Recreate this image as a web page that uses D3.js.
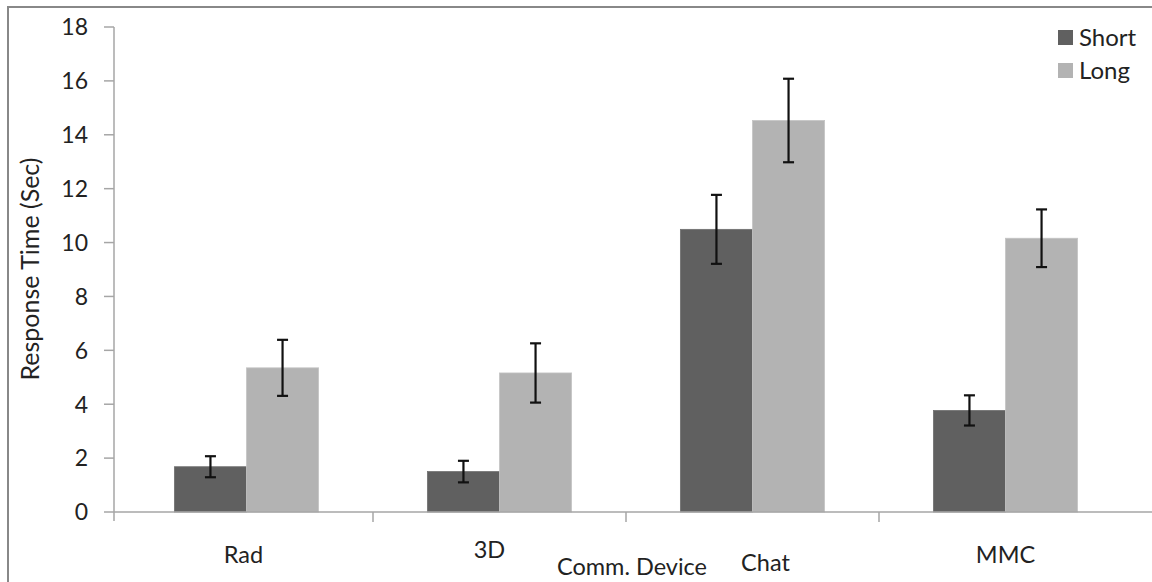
<!DOCTYPE html>
<html>
<head>
<meta charset="utf-8">
<script src="https://cdn.jsdelivr.net/npm/d3@7"></script>
<style>
  body { margin: 0; background: #fff; }
  text { font-family: Lato, "Open Sans", sans-serif; fill: #222; }
</style>
</head>
<body>
<div id="chart"></div>
<script>
// data
var devices = ["Rad", "3D", "Chat", "MMC"];
var seriesNames = ["Short", "Long"];
var shortMeans = [1.68, 1.50, 10.49, 3.77];
var longMeans = [5.35, 5.16, 14.53, 10.16];
var shortErr = [0.39, 0.40, 1.28, 0.56];
var longErr = [1.04, 1.10, 1.55, 1.07];
var yTicks = [0, 2, 4, 6, 8, 10, 12, 14, 16, 18];

var W = 1152, H = 582;
var colors = { Short: "#606060", Long: "#b3b3b3" };
var axisColor = "#a6a6a6";

var svg = d3.select("#chart")
    .append("svg")
    .attr("width", W)
    .attr("height", H);

// outer chart frame (only top and left edges show in the picture)
svg.append("path")
    .attr("d", "M8,582 V7 H1152")
    .attr("fill", "none")
    .attr("stroke", "#888")
    .attr("stroke-width", 2);

var y = d3.scaleLinear().domain([0, 18]).range([512, 27]);
var x = d3.scaleBand().domain(devices).range([120, 1132]);
var barW = x.step() * 0.285;

var rows = devices.map(function(d, i) {
    return [
        { dev: d, s: "Short", v: shortMeans[i], e: shortErr[i], k: 0 },
        { dev: d, s: "Long", v: longMeans[i], e: longErr[i], k: 1 }
    ];
});
var bars = d3.merge(rows);

function barX(b) {
    return x(b.dev) + x.bandwidth() / 2 - barW + b.k * barW;
}

svg.selectAll("rect.bar")
    .data(bars)
    .enter().append("rect")
    .attr("class", "bar")
    .attr("x", barX)
    .attr("y", function(b) { return y(b.v); })
    .attr("width", barW)
    .attr("height", function(b) { return y(0) - y(b.v); })
    .attr("fill", function(b) { return colors[b.s]; })
    .attr("stroke", function(b) { return b.k ? "#c4c4c4" : "#707070"; })
    .attr("stroke-width", 0.8);

// y axis
var yAxis = svg.append("g").attr("transform", "translate(114,0)");
yAxis.append("line")
    .attr("y1", y(18)).attr("y2", 521)
    .attr("stroke", axisColor).attr("stroke-width", 1.5);
yAxis.selectAll("line.tk")
    .data(yTicks)
    .enter().append("line")
    .attr("class", "tk")
    .attr("x1", -10).attr("x2", 0)
    .attr("y1", function(t) { return y(t); })
    .attr("y2", function(t) { return y(t); })
    .attr("stroke", axisColor).attr("stroke-width", 1.5);
yAxis.selectAll("text")
    .data(yTicks)
    .enter().append("text")
    .attr("x", -26)
    .attr("y", function(t) { return y(t); })
    .attr("dy", "0.36em")
    .attr("text-anchor", "end")
    .style("font-size", "23px")
    .text(function(t) { return t; });

// x axis
svg.append("line")
    .attr("x1", 114).attr("x2", W)
    .attr("y1", y(0)).attr("y2", y(0))
    .attr("stroke", axisColor).attr("stroke-width", 1.5);
svg.selectAll("line.xtk")
    .data(devices.slice(1))
    .enter().append("line")
    .attr("class", "xtk")
    .attr("x1", function(d) { return x(d); })
    .attr("x2", function(d) { return x(d); })
    .attr("y1", y(0)).attr("y2", y(0) + 10)
    .attr("stroke", axisColor).attr("stroke-width", 1.5);

// category labels sit at slightly different spots in the original
var nudgeX = [-3, -10, 13, 0];
var baseY = [563, 558, 571, 563];
svg.selectAll("text.cat")
    .data(devices)
    .enter().append("text")
    .attr("class", "cat")
    .attr("x", function(d, i) { return x(d) + x.bandwidth() / 2 + nudgeX[i]; })
    .attr("y", function(d, i) { return baseY[i]; })
    .attr("text-anchor", "middle")
    .style("font-size", "23.5px")
    .text(function(d) { return d; });

// error bars
var cap = 5.5;
var eb = svg.selectAll("g.err")
    .data(bars)
    .enter().append("g")
    .attr("class", "err")
    .attr("stroke", "#111")
    .attr("stroke-width", 2.2);
eb.append("line")
    .attr("x1", function(b) { return barX(b) + barW / 2; })
    .attr("x2", function(b) { return barX(b) + barW / 2; })
    .attr("y1", function(b) { return y(b.v + b.e); })
    .attr("y2", function(b) { return y(b.v - b.e); });
eb.append("line")
    .attr("x1", function(b) { return barX(b) + barW / 2 - cap; })
    .attr("x2", function(b) { return barX(b) + barW / 2 + cap; })
    .attr("y1", function(b) { return y(b.v + b.e); })
    .attr("y2", function(b) { return y(b.v + b.e); });
eb.append("line")
    .attr("x1", function(b) { return barX(b) + barW / 2 - cap; })
    .attr("x2", function(b) { return barX(b) + barW / 2 + cap; })
    .attr("y1", function(b) { return y(b.v - b.e); })
    .attr("y2", function(b) { return y(b.v - b.e); });

// axis titles
svg.append("text")
    .attr("transform", "translate(39,269) rotate(-90)")
    .attr("text-anchor", "middle")
    .style("font-size", "25px")
    .text("Response Time (Sec)");

svg.append("text")
    .attr("x", 632)
    .attr("y", 575)
    .attr("text-anchor", "middle")
    .style("font-size", "23.5px")
    .text("Comm. Device");

// legend
var leg = svg.selectAll("g.leg")
    .data(seriesNames)
    .enter().append("g")
    .attr("class", "leg")
    .attr("transform", function(d, i) { return "translate(1058," + (30 + i * 33) + ")"; });
leg.append("rect")
    .attr("width", 15).attr("height", 15)
    .attr("fill", function(d) { return colors[d]; });
leg.append("text")
    .attr("x", 21)
    .attr("y", 7.5)
    .attr("dy", "0.36em")
    .style("font-size", "24px")
    .text(function(d) { return d; });
</script>
</body>
</html>
